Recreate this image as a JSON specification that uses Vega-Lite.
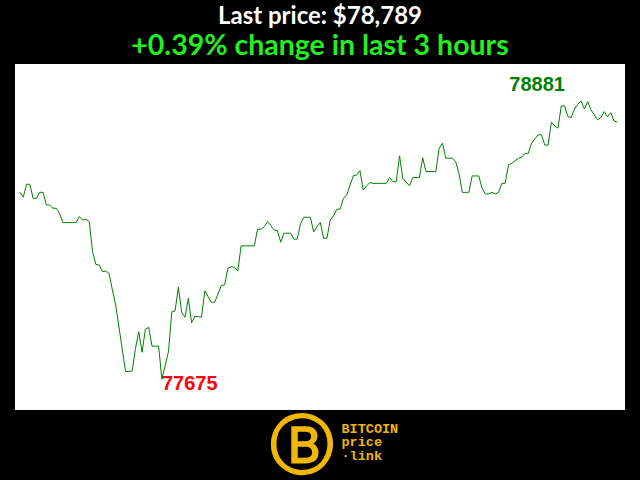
{
  "$schema": "https://vega.github.io/schema/vega-lite/v6.json",
  "width": 610,
  "height": 346,
  "autosize": "none",
  "padding": {"left": 15, "top": 64, "right": 15, "bottom": 70},
  "background": "black",
  "config": {"view": {"fill": "white", "stroke": null}},
  "title": {
    "text": "Last price: $78,789",
    "subtitle": "+0.39% change in last 3 hours",
    "anchor": "middle",
    "font": "Lato",
    "fontSize": 24,
    "fontWeight": "bold",
    "color": "white",
    "subtitleFont": "Lato",
    "subtitleFontSize": 28.5,
    "subtitleFontWeight": "bold",
    "subtitleColor": "#22ee22",
    "subtitlePadding": 3,
    "offset": 4
  },
  "data": {"values": [
    {"t":0,"price":78485},{"t":1,"price":78464},{"t":2,"price":78520},{"t":3,"price":78520},{"t":4,"price":78459},{"t":5,"price":78459},{"t":6,"price":78485},{"t":7,"price":78485},{"t":8,"price":78430},{"t":9,"price":78430},{"t":10,"price":78416},{"t":11,"price":78416},{"t":12,"price":78394},{"t":13,"price":78354},{"t":17,"price":78354},{"t":18,"price":78380},{"t":19,"price":78365},{"t":20,"price":78368},{"t":21,"price":78358},{"t":22,"price":78228},{"t":23,"price":78173},{"t":24,"price":78170},{"t":25,"price":78141},{"t":26,"price":78144},{"t":27,"price":78134},{"t":28,"price":78062},{"t":29,"price":77997},{"t":32,"price":77708},{"t":34,"price":77711},{"t":35,"price":77809},{"t":36,"price":77881},{"t":37,"price":77792},{"t":38,"price":77892},{"t":39,"price":77900},{"t":40,"price":77819},{"t":42,"price":77819},{"t":43,"price":77675},{"t":45,"price":77795},{"t":46,"price":77967},{"t":47,"price":77972},{"t":48,"price":78074},{"t":49,"price":77965},{"t":50,"price":77944},{"t":51,"price":78026},{"t":52,"price":77920},{"t":53,"price":77949},{"t":54,"price":77946},{"t":55,"price":77944},{"t":56,"price":78058},{"t":58,"price":78009},{"t":59,"price":78009},{"t":61,"price":78081},{"t":62,"price":78084},{"t":63,"price":78156},{"t":64,"price":78163},{"t":65,"price":78160},{"t":66,"price":78144},{"t":67,"price":78253},{"t":71,"price":78253},{"t":72,"price":78326},{"t":73,"price":78325},{"t":74,"price":78336},{"t":75,"price":78358},{"t":76,"price":78341},{"t":77,"price":78322},{"t":78,"price":78319},{"t":79,"price":78269},{"t":80,"price":78308},{"t":82,"price":78308},{"t":83,"price":78282},{"t":84,"price":78282},{"t":85,"price":78348},{"t":86,"price":78377},{"t":87,"price":78377},{"t":88,"price":78376},{"t":89,"price":78313},{"t":90,"price":78336},{"t":91,"price":78354},{"t":92,"price":78286},{"t":93,"price":78286},{"t":94,"price":78365},{"t":95,"price":78383},{"t":96,"price":78412},{"t":97,"price":78412},{"t":98,"price":78459},{"t":99,"price":78474},{"t":101,"price":78557},{"t":102,"price":78560},{"t":103,"price":78579},{"t":104,"price":78495},{"t":105,"price":78513},{"t":106,"price":78527},{"t":107,"price":78524},{"t":111,"price":78524},{"t":112,"price":78549},{"t":113,"price":78531},{"t":114,"price":78531},{"t":115,"price":78643},{"t":116,"price":78546},{"t":118,"price":78513},{"t":119,"price":78549},{"t":121,"price":78549},{"t":122,"price":78635},{"t":123,"price":78575},{"t":126,"price":78575},{"t":127,"price":78676},{"t":128,"price":78698},{"t":129,"price":78633},{"t":131,"price":78633},{"t":132,"price":78618},{"t":133,"price":78568},{"t":134,"price":78485},{"t":136,"price":78485},{"t":137,"price":78556},{"t":139,"price":78556},{"t":140,"price":78503},{"t":141,"price":78478},{"t":142,"price":78478},{"t":143,"price":78485},{"t":144,"price":78478},{"t":145,"price":78485},{"t":146,"price":78524},{"t":147,"price":78524},{"t":148,"price":78604},{"t":149,"price":78611},{"t":151,"price":78633},{"t":152,"price":78637},{"t":153,"price":78654},{"t":154,"price":78654},{"t":155,"price":78698},{"t":157,"price":78734},{"t":158,"price":78734},{"t":159,"price":78690},{"t":160,"price":78690},{"t":161,"price":78789},{"t":162,"price":78773},{"t":163,"price":78763},{"t":164,"price":78859},{"t":165,"price":78859},{"t":166,"price":78813},{"t":167,"price":78809},{"t":168,"price":78846},{"t":169,"price":78867},{"t":170,"price":78881},{"t":171,"price":78846},{"t":172,"price":78878},{"t":173,"price":78842},{"t":175,"price":78799},{"t":176,"price":78809},{"t":177,"price":78835},{"t":178,"price":78813},{"t":179,"price":78830},{"t":180,"price":78794},{"t":181,"price":78789}
  ]},
  "encoding": {
    "x": {
      "field": "t", "type": "quantitative",
      "scale": {"domain": [-1.5, 183.3], "nice": false, "zero": false},
      "axis": {
        "labels": false, "ticks": false, "domain": false, "grid": false,
        "title": ["BITCOIN", "price", "·link"],
        "titleFont": "Liberation Mono", "titleFontSize": 13.5, "titleFontWeight": "bold",
        "titleColor": "#f2b705", "titleAlign": "left", "titleAnchor": null,
        "titleBaseline": "alphabetic", "titleLineHeight": 13.5,
        "titleX": 326, "titleY": 22
      }
    },
    "y": {
      "field": "price", "type": "quantitative",
      "scale": {"domain": [77542, 79041], "nice": false, "zero": false},
      "axis": {
        "labels": false, "ticks": false, "domain": false, "grid": false,
        "title": "Ⓑ",
        "titleFont": "DejaVu Sans", "titleFontSize": 64, "titleFontWeight": "bold",
        "titleColor": "#f2b705", "titleAngle": 0, "titleAlign": "center",
        "titleBaseline": "middle", "titleX": 286, "titleY": 383
      }
    }
  },
  "layer": [
    {"mark": {"type": "line", "color": "#008000", "strokeWidth": 1}},
    {
      "transform": [{"filter": {"field": "price", "equal": 77675}}],
      "mark": {"type": "text", "color": "#ff0000", "font": "Liberation Sans", "fontSize": 20, "fontWeight": "bold", "align": "left", "baseline": "alphabetic", "dx": 0, "dy": 11},
      "encoding": {"text": {"field": "price", "type": "nominal"}}
    },
    {
      "transform": [{"filter": {"field": "price", "equal": 78881}}],
      "mark": {"type": "text", "color": "#008000", "font": "Liberation Sans", "fontSize": 20, "fontWeight": "bold", "align": "center", "baseline": "alphabetic", "dx": -44, "dy": -10},
      "encoding": {"text": {"field": "price", "type": "nominal"}}
    }
  ]
}
